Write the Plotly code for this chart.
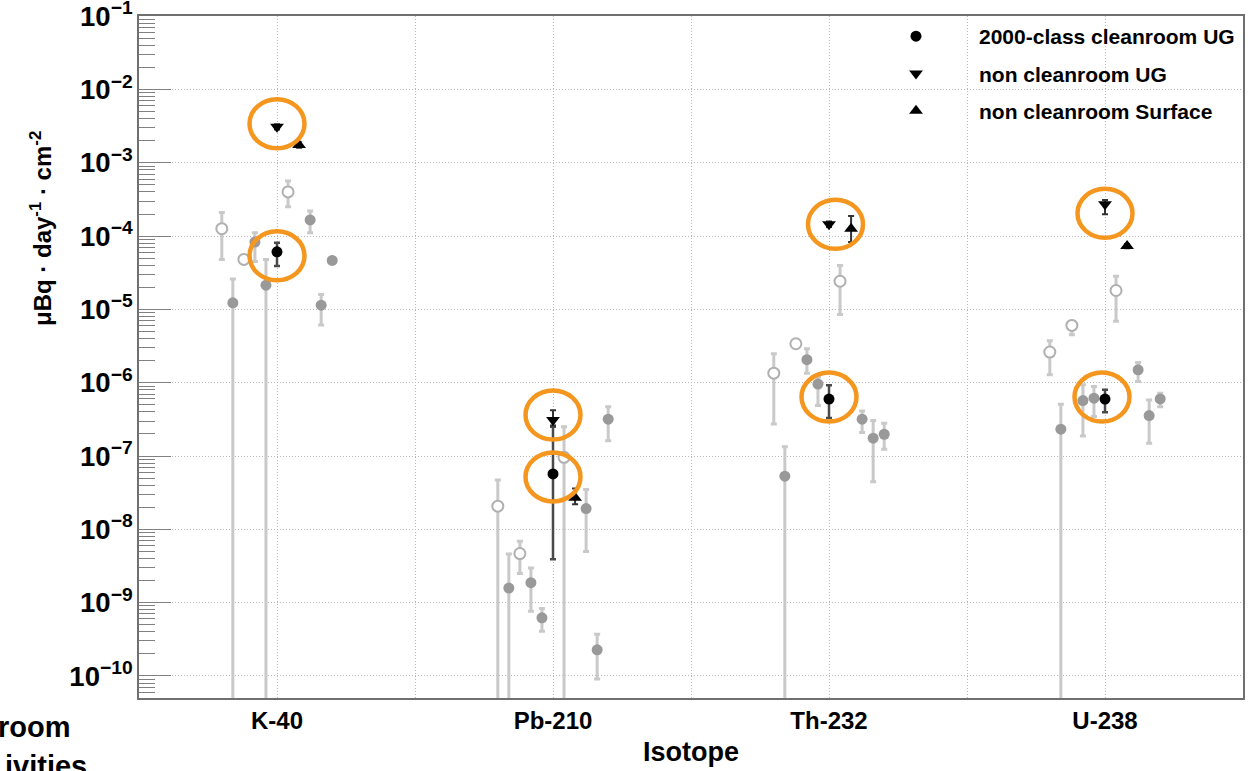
import math
import plotly.graph_objects as go

categories = ["K-40", "Pb-210", "Th-232", "U-238"]

# --- highlighted series (black markers) ---
cleanroom_ug = [6.1e-5, 5.7e-8, 5.97e-7, 5.97e-7]
cleanroom_ug_hi = [8.1e-5, 2.5e-7, 9.2e-7, 8.0e-7]
cleanroom_ug_lo = [3.9e-5, 3.9e-9, 3.3e-7, 3.96e-7]

noncleanroom_ug = [3.1e-3, 3.1e-7, 1.45e-4, 2.71e-4]
noncleanroom_ug_hi = [3.35e-3, 4.2e-7, 1.58e-4, 3.1e-4]
noncleanroom_ug_lo = [2.85e-3, 2.6e-7, 1.33e-4, 1.98e-4]

noncleanroom_surface = [1.75e-3, 2.69e-8, 1.26e-4, 7.3e-5]
noncleanroom_surface_hi = [1.9e-3, 3.6e-8, 1.88e-4, 7.8e-5]
noncleanroom_surface_lo = [1.6e-3, 2.2e-8, 8.3e-5, 6.8e-5]

# --- other samples: open circles (lower bound 0 = unbounded) ---
open_a = [1.26e-4, 2.07e-8, 1.35e-6, 2.62e-6]
open_a_hi = [2.09e-4, 4.7e-8, 2.48e-6, 3.74e-6]
open_a_lo = [4.8e-5, 0, 2.74e-7, 1.28e-6]

open_b = [4.8e-5, 4.67e-9, 3.4e-6, 6.05e-6]
open_b_hi = [4.8e-5, 6.9e-9, 3.4e-6, 6.9e-6]
open_b_lo = [4.8e-5, 2.5e-9, 3.4e-6, 4.5e-6]

open_c = [4.0e-4, 9.6e-8, 2.42e-5, 1.81e-5]
open_c_hi = [5.65e-4, 2.5e-7, 3.97e-5, 2.84e-5]
open_c_lo = [2.52e-4, 0, 8.5e-6, 6.9e-6]

# --- other samples: grey filled circles ---
gray_a = [1.23e-5, 1.58e-9, 5.3e-8, 2.32e-7]
gray_a_hi = [2.6e-5, 4.6e-9, 1.34e-7, 5.1e-7]
gray_a_lo = [0, 0, 0, 0]

gray_b = [8.3e-5, 1.87e-9, 2.06e-6, 5.7e-7]
gray_b_hi = [1.11e-4, 2.96e-9, 2.9e-6, 9.4e-7]
gray_b_lo = [4.5e-5, 7.6e-10, 1.35e-6, 1.88e-7]

gray_c = [2.14e-5, 6.2e-10, 9.57e-7, 6.15e-7]
gray_c_hi = [4.8e-5, 8.3e-10, 1.2e-6, 8.9e-7]
gray_c_lo = [0, 4.07e-10, 4.9e-7, 3.45e-7]

gray_d = [1.66e-4, 1.92e-8, 3.18e-7, 1.5e-6]
gray_d_hi = [2.2e-4, 3.5e-8, 4.1e-7, 1.89e-6]
gray_d_lo = [1.11e-4, 5.0e-9, 2.1e-7, 1.04e-6]

gray_e = [1.14e-5, 2.27e-10, 1.75e-7, 3.56e-7]
gray_e_hi = [1.6e-5, 3.7e-10, 3.04e-7, 5.8e-7]
gray_e_lo = [6.1e-6, 9.1e-11, 4.45e-8, 1.49e-7]

gray_f = [4.65e-5, 3.18e-7, 1.98e-7, 6.0e-7]
gray_f_hi = [4.65e-5, 4.7e-7, 2.8e-7, 7.2e-7]
gray_f_lo = [4.65e-5, 1.62e-7, 1.24e-7, 4.7e-7]

FONT = "Liberation Sans, Arial, Helvetica, sans-serif"
ORANGE = "#F5961E"
X_RANGE = [0, 4]
Y_RANGE = [math.log10(5e-11), -0.998]

fig = go.Figure()


def xpos(offset):
    return [i + 0.5 + offset for i in range(len(categories))]


def add_series(vals, hi, lo, offset, marker, err_color, err_thick, name=None, legend=False):
    fig.add_trace(go.Scatter(
        x=xpos(offset), y=vals, mode="markers", name=name, showlegend=legend,
        legendgroup=name if name else None,
        marker=marker,
        error_y=dict(type="data", symmetric=False,
                     array=[h - v for h, v in zip(hi, vals)],
                     arrayminus=[v - l for v, l in zip(vals, lo)],
                     color=err_color, thickness=err_thick, width=3),
    ))


GREY_ERR = "#c9c9c9"
grey_marker = dict(symbol="circle", size=11, color="#999999", line=dict(width=0))
open_marker = dict(symbol="circle", size=11, color="white", line=dict(width=2, color="#b0b0b0"))

add_series(open_a, open_a_hi, open_a_lo, -0.20, open_marker, GREY_ERR, 3)
add_series(gray_a, gray_a_hi, gray_a_lo, -0.16, grey_marker, GREY_ERR, 3)
add_series(open_b, open_b_hi, open_b_lo, -0.12, open_marker, GREY_ERR, 3)
add_series(gray_b, gray_b_hi, gray_b_lo, -0.08, grey_marker, GREY_ERR, 3)
add_series(gray_c, gray_c_hi, gray_c_lo, -0.04, grey_marker, GREY_ERR, 3)
add_series(open_c, open_c_hi, open_c_lo, 0.04, open_marker, GREY_ERR, 3)
add_series(gray_d, gray_d_hi, gray_d_lo, 0.12, grey_marker, GREY_ERR, 3)
add_series(gray_e, gray_e_hi, gray_e_lo, 0.16, grey_marker, GREY_ERR, 3)
add_series(gray_f, gray_f_hi, gray_f_lo, 0.20, grey_marker, GREY_ERR, 3)

add_series(cleanroom_ug, cleanroom_ug_hi, cleanroom_ug_lo, 0.0,
           dict(symbol="circle", size=11, color="black"), "#4a4a4a", 2.5,
           name="2000-class cleanroom UG", legend=True)
add_series(noncleanroom_ug, noncleanroom_ug_hi, noncleanroom_ug_lo, 0.0,
           dict(symbol="triangle-down", size=12, color="black"), "#333333", 2,
           name="non cleanroom UG", legend=True)
add_series(noncleanroom_surface, noncleanroom_surface_hi, noncleanroom_surface_lo, 0.08,
           dict(symbol="triangle-up", size=12, color="black"), "#333333", 2,
           name="non cleanroom Surface", legend=True)

# orange rings around highlighted points: (series values, offset, dx px, dy px)
rings = [
    (noncleanroom_ug, 0.0, [0, 0, 6.5, 0], [3, 5, 0, -9]),
    (cleanroom_ug, 0.0, [0, 0, 0, -3], [-4, -3, 2, 2]),
]
shapes = []
for vals, off, dxs, dys in rings:
    for xv, yv, dx, dy in zip(xpos(off), vals, dxs, dys):
        px = (xv - X_RANGE[0]) / (X_RANGE[1] - X_RANGE[0])
        py = (math.log10(yv) - Y_RANGE[0]) / (Y_RANGE[1] - Y_RANGE[0])
        shapes.append(dict(type="circle", xref="paper", yref="paper", xsizemode="pixel", ysizemode="pixel",
                           xanchor=px, yanchor=py, x0=-27.5 + dx, x1=27.5 + dx, y0=-24.5 + dy, y1=24.5 + dy,
                           line=dict(color=ORANGE, width=4.5), layer="above"))

DOT = "1px,2px"
grid = dict(gridcolor="#b8b8b8", griddash=DOT, gridwidth=1)

fig.update_layout(
    width=1254, height=771,
    margin=dict(l=139, r=11, t=16, b=73, autoexpand=False),
    paper_bgcolor="white", plot_bgcolor="white",
    font=dict(family=FONT, color="black"),
    shapes=shapes,
    legend=dict(x=(853 - 139) / 1104, y=1.0, xanchor="left", yanchor="top", bgcolor="rgba(0,0,0,0)",
                borderwidth=0, font=dict(size=21, family=FONT, weight="bold"),
                itemwidth=116, tracegroupgap=7, traceorder="grouped"),
    xaxis=dict(range=X_RANGE, tickmode="array", tickvals=[0.5, 1.5, 2.5, 3.5], ticktext=categories,
               ticks="", showline=True, mirror=True, linecolor="#707070", linewidth=2,
               showgrid=True, **grid, zeroline=False, automargin=False,
               minor=dict(tick0=0, dtick=0.5, showgrid=True, gridcolor="#b8b8b8", griddash=DOT, ticks=""),
               tickfont=dict(size=24, family=FONT, weight="bold")),
    yaxis=dict(type="log", range=Y_RANGE, dtick=1, exponentformat="power",
               showexponent="all", ticks="inside", ticklen=32, tickcolor="#808080", tickwidth=1,
               showline=True, mirror=True, linecolor="#707070", linewidth=2,
               showgrid=True, **grid, zeroline=False, ticklabeloverflow="allow", automargin=False,
               minor=dict(ticks="inside", ticklen=16, dtick="D1", tickcolor="#808080", showgrid=False),
               tickfont=dict(size=22, family=FONT, weight="bold")),
    annotations=[
        dict(text="μBq · day<sup>-1</sup> · cm<sup>-2</sup>", xref="paper", yref="paper",
             x=(41 - 139) / 1104, y=(698 - 229) / 682, textangle=-90, showarrow=False,
             xanchor="center", yanchor="middle",
             font=dict(size=24, family=FONT, weight="bold")),
        dict(text="Isotope", xref="paper", yref="paper", x=0.5, y=(698 - 752) / 682,
             xanchor="center", yanchor="middle",
             showarrow=False, font=dict(size=27, family=FONT, weight="bold")),
        dict(text="room", xref="paper", yref="paper", x=(73 - 139) / 1104, y=(698 - 727) / 682,
             xanchor="right", yanchor="middle", showarrow=False,
             font=dict(size=29, family=FONT, weight="bold")),
        dict(text="ivities", xref="paper", yref="paper", x=(89 - 139) / 1104, y=(698 - 766) / 682,
             xanchor="right", yanchor="middle", showarrow=False,
             font=dict(size=29, family=FONT, weight="bold")),
    ],
)

fig.write_html("out.html")
